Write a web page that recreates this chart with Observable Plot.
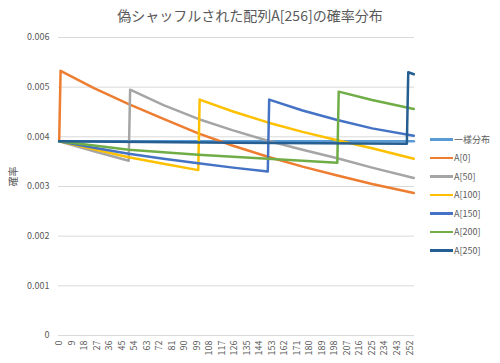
<!DOCTYPE html>
<html><head><meta charset="utf-8">
<script src="https://cdn.jsdelivr.net/npm/d3@7"></script>
<script src="https://cdn.jsdelivr.net/npm/@observablehq/plot@0.6"></script>
<style>
body{margin:0;background:#fff;font-family:"Noto Sans CJK JP","Noto Sans",sans-serif;}
#wrap{position:relative;width:500px;height:363px;overflow:hidden;}
#title{position:absolute;left:0;width:500px;top:6px;text-align:center;font-size:14px;color:#595959;line-height:18px;}
#legend{position:absolute;left:430px;top:130px;font-size:9px;color:#595959;}
.item{height:18.5px;display:flex;align-items:center;}
.sw{width:23px;height:2.5px;margin-right:1px;}
</style></head><body>
<div id="wrap"><div id="chart"></div><div id="title">偽シャッフルされた配列A[256]の確率分布</div><div id="legend"></div></div>
<script>
const seriesNames = ["一様分布","A[0]","A[50]","A[100]","A[150]","A[200]","A[250]"];
const seriesColors = ["#5B9BD5","#ED7D31","#A5A5A5","#FFC000","#4472C4","#70AD47","#255E91"];

const uniformX = [0, 255];
const uniformY = [0.00391, 0.00391];
const a0X = [0, 1, 25, 50, 75, 100, 125, 150, 175, 200, 225, 255];
const a0Y = [0.00391, 0.00533, 0.00498, 0.00466, 0.00436, 0.00407, 0.00382, 0.00360, 0.00340, 0.00322, 0.00305, 0.00287];
const a50X = [0, 25, 50, 51, 75, 100, 125, 150, 175, 200, 225, 255];
const a50Y = [0.00391, 0.00371, 0.00352, 0.00495, 0.00464, 0.00436, 0.00413, 0.00392, 0.00374, 0.00357, 0.00338, 0.00317];
const a100X = [0, 25, 50, 75, 100, 101, 125, 150, 175, 200, 225, 255];
const a100Y = [0.00391, 0.00375, 0.00359, 0.00346, 0.00333, 0.00475, 0.00451, 0.00429, 0.00410, 0.00393, 0.00377, 0.00356];
const a150X = [0, 25, 50, 75, 100, 125, 150, 151, 175, 200, 225, 255];
const a150Y = [0.00391, 0.00378, 0.00366, 0.00356, 0.00347, 0.00338, 0.00330, 0.00475, 0.00453, 0.00434, 0.00417, 0.00402];
const a200X = [0, 50, 100, 150, 200, 201, 225, 255];
const a200Y = [0.00391, 0.00374, 0.00364, 0.00356, 0.00348, 0.00491, 0.00474, 0.00456];
const a250X = [0, 125, 250, 251, 255];
const a250Y = [0.00391, 0.00388, 0.00386, 0.00530, 0.00526];

const xTicks = [0,9,18,27,36,45,54,63,72,81,90,99,108,117,126,135,144,153,162,171,180,189,198,207,216,225,234,243,252];
const yTicks = [0,0.001,0.002,0.003,0.004,0.005,0.006];

const seriesX = [uniformX,a0X,a50X,a100X,a150X,a200X,a250X];
const seriesY = [uniformY,a0Y,a50Y,a100Y,a150Y,a200Y,a250Y];
const rows = [];
seriesNames.forEach((name,i)=>{
  seriesX[i].forEach((x,j)=>rows.push({series:name,x,y:seriesY[i][j]}));
});

const chart = Plot.plot({
  width: 500, height: 363,
  marginLeft: 58, marginRight: 86, marginTop: 37, marginBottom: 28,
  style: {fontFamily: '"Noto Sans CJK JP","Noto Sans",sans-serif', background: "#fff", color: "#595959"},
  x: {type: "linear", domain: [-0.5, 255.5]},
  y: {domain: [0, 0.006]},
  color: {domain: seriesNames, range: seriesColors},
  marks: [
    Plot.gridY(yTicks, {stroke: "#d9d9d9", strokeOpacity: 1, strokeWidth: 1}),
    Plot.axisY(yTicks, {tickSize: 0, tickPadding: 9, fontSize: 9, fill: "#595959", label: null,
      tickFormat: d => d === 0 ? "0" : d.toFixed(3)}),
    Plot.axisX(xTicks, {tickSize: 0, tickPadding: 5, tickRotate: -90, fontSize: 9, fill: "#595959", label: null}),
    Plot.text(["確率"], {text: d => d, frameAnchor: "left", dx: -45, rotate: -90, fontSize: 10, fill: "#595959"}),
    Plot.line(rows, {x: "x", y: "y", z: "series", stroke: "series", strokeWidth: 2.5, curve: "linear"})
  ]
});
document.getElementById("chart").appendChild(chart);

const legend = document.getElementById("legend");
seriesNames.forEach((name,i)=>{
  const it = document.createElement("div"); it.className = "item";
  const sw = document.createElement("span"); sw.className = "sw"; sw.style.background = seriesColors[i];
  const lb = document.createElement("span"); lb.textContent = name;
  it.appendChild(sw); it.appendChild(lb); legend.appendChild(it);
});
</script>
</body></html>
